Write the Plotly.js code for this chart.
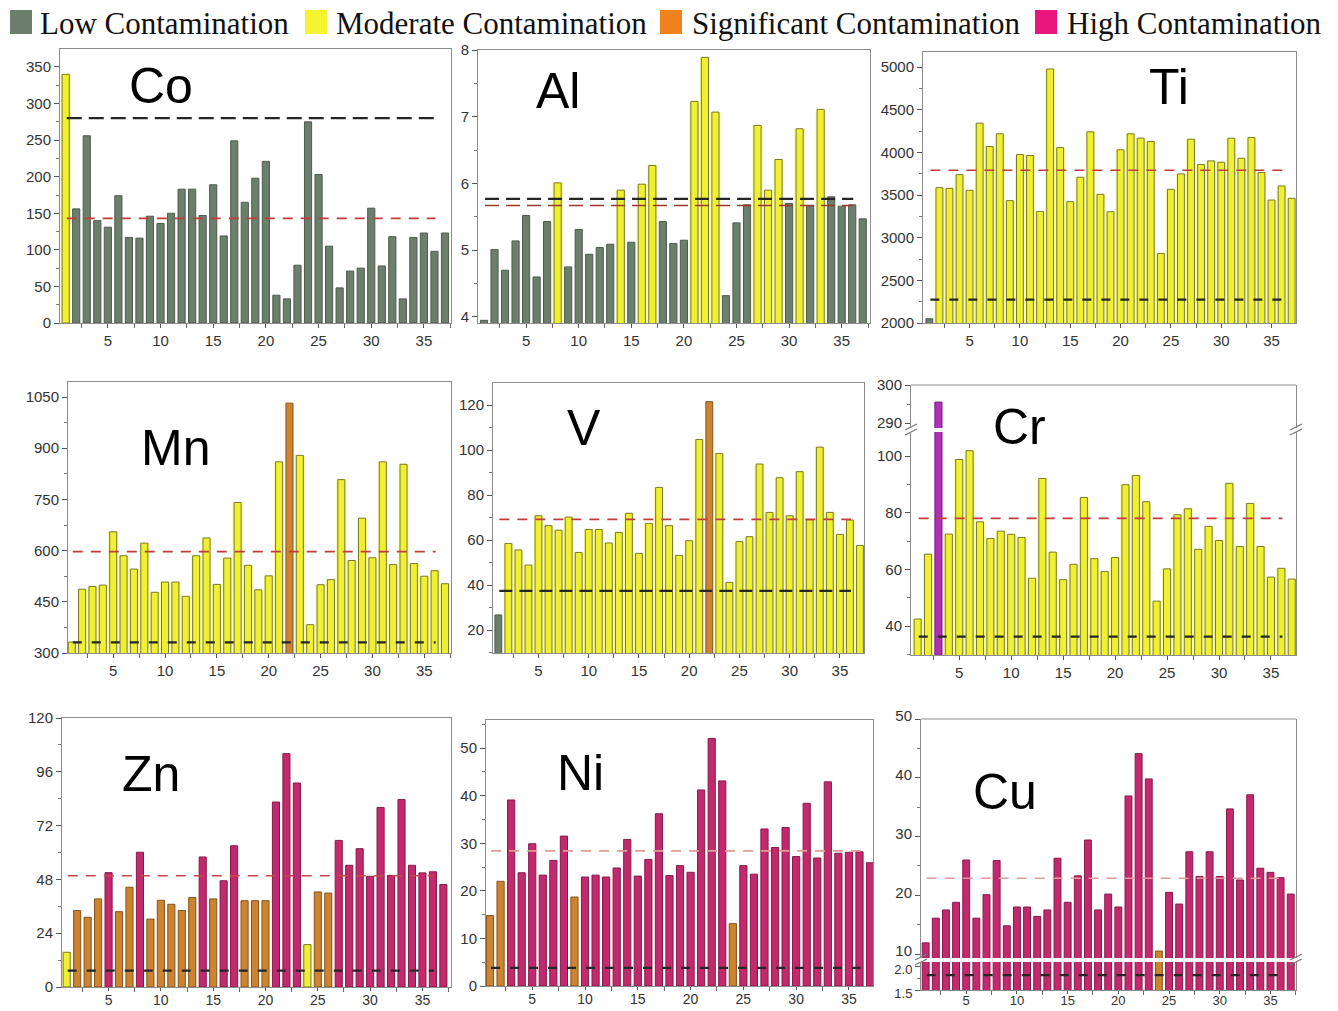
<!DOCTYPE html>
<html>
<head>
<meta charset="utf-8">
<script src="https://cdn.plot.ly/plotly-3.0.1.min.js"></script>
<style>html,body{margin:0;padding:0;background:#fff;}#chart{width:1338px;height:1011px;}</style>
</head>
<body>
<div id="chart"></div>
<script>
// ---------------- DATA ----------------
const sites = [1,2,3,4,5,6,7,8,9,10,11,12,13,14,15,16,17,18,19,20,21,22,23,24,25,26,27,28,29,30,31,32,33,34,35,36,37];
const xTickVals = [5,10,15,20,25,30,35];
const legendLabels = ['Low Contamination','Moderate Contamination','Significant Contamination','High Contamination'];
const elementNames = ['Co','Al','Ti','Mn','V','Cr','Zn','Ni','Cu'];

const coVals = [340,156,256,140,131,174,117,116,146,136,150,183,183,147,189,119,249,165,198,221,38,33,79,275,203,105,48,71,75,157,78,118,33,117,123,98,123];
const coClass = "MLLLLLLLLLLLLLLLLLLLLLLLLLLLLLLLLLLLL";
const alVals = [3.95,5.01,4.70,5.14,5.52,4.60,5.43,6.01,4.75,5.31,4.94,5.04,5.09,5.90,5.12,5.99,6.27,5.43,5.10,5.15,7.23,7.89,7.07,4.32,5.41,5.68,6.87,5.90,6.36,5.70,6.82,5.66,7.11,5.80,5.66,5.68,5.47];
const alClass = "LLLLLLLMLLLLLMLMMLLLMMMLLLMMMLMLMLLLL";
const tiVals = [2050,3586,3578,3739,3555,4342,4068,4217,3434,3974,3962,3308,4977,4056,3422,3708,4240,3508,3304,4029,4217,4166,4127,2815,3567,3747,4154,3857,3900,3884,4166,3931,4174,3763,3441,3606,3461];
const tiClass = "LMMMMMMMMMMMMMMMMMMMMMMMMMMMMMMMMMMMM";
const mnVals = [332,487,495,499,655,585,546,622,478,508,508,466,585,637,501,578,741,557,485,526,860,1032,879,383,500,515,808,571,695,579,860,559,853,562,525,541,503];
const mnClass = "MMMMMMMMMMMMMMMMMMMMMSMMMMMMMMMMMMMMM";
const vVals = [26.7,58.5,55.6,48.9,70.8,66.4,64.4,70.2,54.5,64.7,64.7,58.7,63.4,71.9,54.1,67.4,83.4,66.4,53.2,59.7,104.7,121.5,98.5,41.2,59.3,61.5,93.8,72.3,87.7,70.8,90.4,69.0,101.3,72.3,62.5,68.9,57.6];
const vClass = "LMMMMMMMMMMMMMMMMMMMMSMMMMMMMMMMMMMMM";
const crVals = [42.5,65.4,295.5,72.5,98.8,101.9,76.8,70.9,73.5,72.4,71.3,56.9,92.1,66.1,56.4,61.8,85.4,63.8,59.3,64.2,89.9,93.2,83.9,48.8,60.2,79.3,81.4,67.1,75.2,70.2,90.4,68.1,83.3,68.1,57.3,60.4,56.6];
const crClass = "MMPMMMMMMMMMMMMMMMMMMMMMMMMMMMMMMMMMM";
const znVals = [15.5,34.1,31.1,39.3,51.0,33.6,44.5,60.1,30.3,38.7,36.9,34.1,39.9,58.0,39.3,47.4,63.0,38.5,38.5,38.5,82.5,104.1,91.0,18.9,42.4,41.9,65.4,54.3,61.7,49.4,80.1,49.8,83.6,54.3,50.9,51.4,45.7];
const znClass = "MSSSHSSHSSSSSHSHHSSSHHHMSSHHHHHHHHHHH";
const niVals = [14.8,22.0,39.1,23.8,29.9,23.3,26.4,31.5,18.7,22.9,23.3,22.9,24.8,30.8,23.1,26.6,36.2,23.2,25.3,23.9,41.2,52.0,43.1,13.1,25.3,23.5,33.0,29.1,33.3,27.2,38.4,26.9,42.9,27.9,28.1,28.2,25.9];
const niClass = "SSHHHHHHSHHHHHHHHHHHHHHSHHHHHHHHHHHHH";
const cuVals = [11.9,16.1,17.5,18.8,26.0,16.1,20.1,25.9,14.8,18.0,18.0,16.4,17.5,26.3,18.8,23.3,29.4,17.5,20.2,18.0,36.9,44.1,39.8,10.5,20.5,18.5,27.4,23.2,27.4,23.2,34.7,22.6,37.1,24.6,23.9,23.0,20.2];
const cuClass = "HHHHHHHHHHHHHHHHHHHHHHHSHHHHHHHHHHHHH";

// background (black dashed) and threshold (red dashed) levels
const backgroundLevels = [280, 5.77, 2275, 331, 37.4, 36.3, 7.3, 3.8, 1.82];
const thresholdLevels  = [143, 5.67, 3790, 597, 69.2, 78.0, 49.6, 28.4, 22.9];
const lineSpan = [1.1, 36.1];

// ---------------- STYLE ----------------
const W = 1338, H = 1011;
const fx = p => p / W, fy = p => 1 - p / H;
const FILL = {L:'#6c7e6c', M:'#efef34', S:'#cc8430', H:'#c22a6d', P:'#ae30b4'};
const EDGE = {L:'#4c5c4c', M:'#7a7a26', S:'#87521a', H:'#86194a', P:'#761a7c'};
const tickFont = {family:'Liberation Sans, Arial, sans-serif', size:15, color:'#333'};
const BAR_W = 0.68, GLOW_W = 0.96;

const panels = [
  {vals:coVals, cls:coClass, x:[60,451],  y:[49,323],  xr:[0.46,37.57], yr:[0,374.6],    dt:50,  t0:0,   m:25,  lp:[127,86],  bdash:'15px,7px', rdash:'10px,8px', rcol:'#c23c3c'},
  {vals:alVals, cls:alClass, x:[478,870], y:[50,323],  xr:[0.43,37.69], yr:[3.91,8.0],    dt:1,   t0:4,   m:0.5, lp:[534,91],  bdash:'14px,7px', rdash:'14px,7px', rcol:'#9a3a2a'},
  {vals:tiVals, cls:tiClass, x:[923,1296],y:[52,323],  xr:[0.37,37.43], yr:[2000,5176],   dt:500, t0:2000,m:250, lp:[1147,87], bdash:'9px,10px', rdash:'10px,8px', rcol:'#c23c3c'},
  {vals:mnVals, cls:mnClass, x:[68,451],  y:[382,653], xr:[0.64,37.58], yr:[300,1094],    dt:150, t0:300, m:75,  lp:[139,448], bdash:'9px,10px', rdash:'10px,8px', rcol:'#c23c3c'},
  {vals:vVals,  cls:vClass,  x:[493,864], y:[383,653], xr:[0.47,37.4],  yr:[9.8,129.8],   dt:20,  t0:0,   m:10,  lp:[565,428], bdash:'13px,7px', rdash:'10px,8px', rcol:'#c23c3c'},
  {vals:crVals, cls:crClass, x:[911,1296],y:[432,655], xr:[0.36,37.41], yr:[29.8,108.5],  dt:20,  t0:0,   m:10,  lp:[991,427], bdash:'9px,10px', rdash:'10px,8px', rcol:'#c23c3c'},
  {vals:znVals, cls:znClass, x:[62,451],  y:[718,987], xr:[0.55,37.73], yr:[0,120],       dt:24,  t0:0,   m:12,  lp:[120,774], bdash:'9px,10px', rdash:'10px,8px', rcol:'#c84848'},
  {vals:niVals, cls:niClass, x:[486,873], y:[720,986], xr:[0.62,37.28], yr:[0,55.9],      dt:10,  t0:0,   m:5,   lp:[555,773], bdash:'9px,10px', rdash:'10px,8px', rcol:'#e09a9a'},
  {vals:cuVals, cls:cuClass, x:[921,1296],y:[719,958], xr:[0.54,37.52], yr:[9.32,50],     dt:10,  t0:0,   m:5,   lp:[971,792], bdash:'9px,10px', rdash:'10px,8px', rcol:'#e09a9a'}
];

const data = [];
const layout = {
  width: W, height: H, margin:{l:0,r:0,t:0,b:0},
  paper_bgcolor:'#ffffff', plot_bgcolor:'#ffffff',
  showlegend:false, barmode:'overlay', shapes:[], annotations:[], hovermode:'closest'
};

function glowTrace(vals, cls, xa, ya) {
  return {type:'bar', x:sites, y:vals.map((v, j) => cls[j] === 'M' ? v : null), xaxis:xa, yaxis:ya,
    width:GLOW_W, marker:{color:'rgba(246,246,80,0.5)', line:{width:0}}, hoverinfo:'skip'};
}
function barTrace(vals, cls, xa, ya) {
  return {type:'bar', x:sites, y:vals, xaxis:xa, yaxis:ya, width:BAR_W,
    marker:{color:cls.split('').map(c=>FILL[c]), line:{color:cls.split('').map(c=>EDGE[c]), width:1}},
    hovertemplate:'%{x}: %{y}<extra></extra>'};
}
function hline(v, xa, ya, color, dash, w) {
  return {type:'scatter', mode:'lines', x:lineSpan, y:[v,v], xaxis:xa, yaxis:ya,
    line:{color:color, dash:dash, width:w}, hoverinfo:'skip'};
}
function yAxis(dom, range, dt, t0, m, anchor, extra) {
  return Object.assign({domain:[fy(dom[1]), fy(dom[0])], range:range, anchor:anchor,
    dtick:dt, tick0:t0, ticks:'outside', ticklen:5, tickcolor:'#555', tickfont:tickFont,
    minor:{dtick:m, tick0:t0, ticks:'outside', ticklen:3, tickcolor:'#777'},
    showline:true, linecolor:'#8c8c8c', linewidth:1, mirror:true,
    showgrid:false, zeroline:false, fixedrange:true}, extra||{});
}
function xAxis(dom, range, anchor, mirror, extra) {
  return Object.assign({domain:[fx(dom[0]), fx(dom[1])], range:range, anchor:anchor,
    tickmode:'array', tickvals:xTickVals, ticks:'outside', ticklen:4, tickcolor:'#555', tickfont:tickFont,
    minor:{tickmode:'array', tickvals:[2.5,7.5,12.5,17.5,22.5,27.5,32.5,37.5], ticks:'outside', ticklen:4, tickcolor:'#666'},
    showline:true, linecolor:'#8c8c8c', linewidth:1, mirror:mirror,
    showgrid:false, zeroline:false, fixedrange:true}, extra||{});
}

panels.forEach((p, i) => {
  const n = i + 1;
  const xa = 'x' + (n === 1 ? '' : n), ya = 'y' + (n === 1 ? '' : n);
  const xk = 'xaxis' + (n === 1 ? '' : n), yk = 'yaxis' + (n === 1 ? '' : n);
  const broken = (n === 6 || n === 9);
  let xAnchor = ya;
  if (n === 9) xAnchor = 'y11';
  let xExtra = {};
  if (n === 7 || n === 8) xExtra = {ticklen:3, ticklabelstandoff:-3, tickfont:Object.assign({}, tickFont, {size:14})};
  if (n === 9) xExtra = {ticklen:3, ticklabelstandoff:-5, tickfont:Object.assign({}, tickFont, {size:13})};
  layout[xk] = xAxis(p.x, p.xr, xAnchor, !broken, xExtra);
  layout[yk] = yAxis(p.y, p.yr, p.dt, p.t0, p.m, xa, n === 9 ? {ticklabelshift:-3} : {});

  data.push(glowTrace(p.vals, p.cls, xa, ya));
  data.push(barTrace(p.vals, p.cls, xa, ya));

  if (n === 6) {
    // upper part of broken Cr axis
    layout.yaxis10 = yAxis([385,428], [288.7,300], 10, 290, 5, xa);
    data.push(barTrace(p.vals, p.cls, xa, 'y10'));
    data.push(hline(thresholdLevels[i], xa, ya, p.rcol, p.rdash, 1.6));
    data.push(hline(backgroundLevels[i], xa, ya, '#262626', p.bdash, 2.2));
  } else if (n === 9) {
    // lower part of broken Cu axis
    layout.yaxis11 = yAxis([962,990], [1.5,2.1], 0.5, 1.5, 0.25, xa,
      {tickformat:'.1f', ticklabelshift:3, tickfont:Object.assign({}, tickFont, {size:13})});
    data.push(barTrace(p.vals, p.cls, xa, 'y11'));
    data.push(hline(thresholdLevels[i], xa, ya, p.rcol, p.rdash, 1.6));
    data.push(hline(backgroundLevels[i], xa, 'y11', '#262626', p.bdash, 2.2));
  } else {
    data.push(hline(thresholdLevels[i], xa, ya, p.rcol, p.rdash, 1.6));
    data.push(hline(backgroundLevels[i], xa, ya, '#262626', p.bdash, 2.2));
  }

  layout.annotations.push({xref:'paper', yref:'paper', x:fx(p.lp[0]), y:fy(p.lp[1]),
    xanchor:'left', yanchor:'middle', showarrow:false, text:elementNames[i],
    font:{family:'Liberation Sans, Arial, sans-serif', size:50, color:'#000'}});
});

// frame tops of broken panels
layout.shapes.push({type:'line', xref:'paper', yref:'paper', x0:fx(911), x1:fx(1296), y0:fy(385), y1:fy(385), line:{color:'#8c8c8c', width:1}});
layout.shapes.push({type:'line', xref:'paper', yref:'paper', x0:fx(921), x1:fx(1296), y0:fy(719), y1:fy(719), line:{color:'#8c8c8c', width:1}});
// break marks
function breakMark(cx, cy1, cy2) {
  [cy1, cy2].forEach(cy => layout.shapes.push({type:'line', xref:'paper', yref:'paper',
    x0:fx(cx-6), x1:fx(cx+6), y0:fy(cy+3), y1:fy(cy-3), line:{color:'#777', width:1.2}}));
}
breakMark(911, 427, 432); breakMark(1296, 427, 432);
breakMark(921, 957, 962); breakMark(1296, 957, 962);

// legend
const legendSq = [[10,FILL.L], [305,'#f4f432'], [660,'#f0821e'], [1035,'#e8167c']];
const legendTx = [38, 334, 690, 1065];
legendSq.forEach((s, k) => {
  layout.shapes.push({type:'rect', xref:'paper', yref:'paper', x0:fx(s[0]), x1:fx(s[0]+22), y0:fy(34), y1:fy(10),
    fillcolor:s[1], line:{width:0}});
  layout.annotations.push({xref:'paper', yref:'paper', x:fx(legendTx[k]), y:fy(23), xanchor:'left', yanchor:'middle',
    showarrow:false, text:legendLabels[k], font:{family:'Liberation Serif, Times New Roman, serif', size:31, color:'#111'}});
});

Plotly.newPlot('chart', data, layout, {displayModeBar:false, responsive:false});
</script>
</body>
</html>
